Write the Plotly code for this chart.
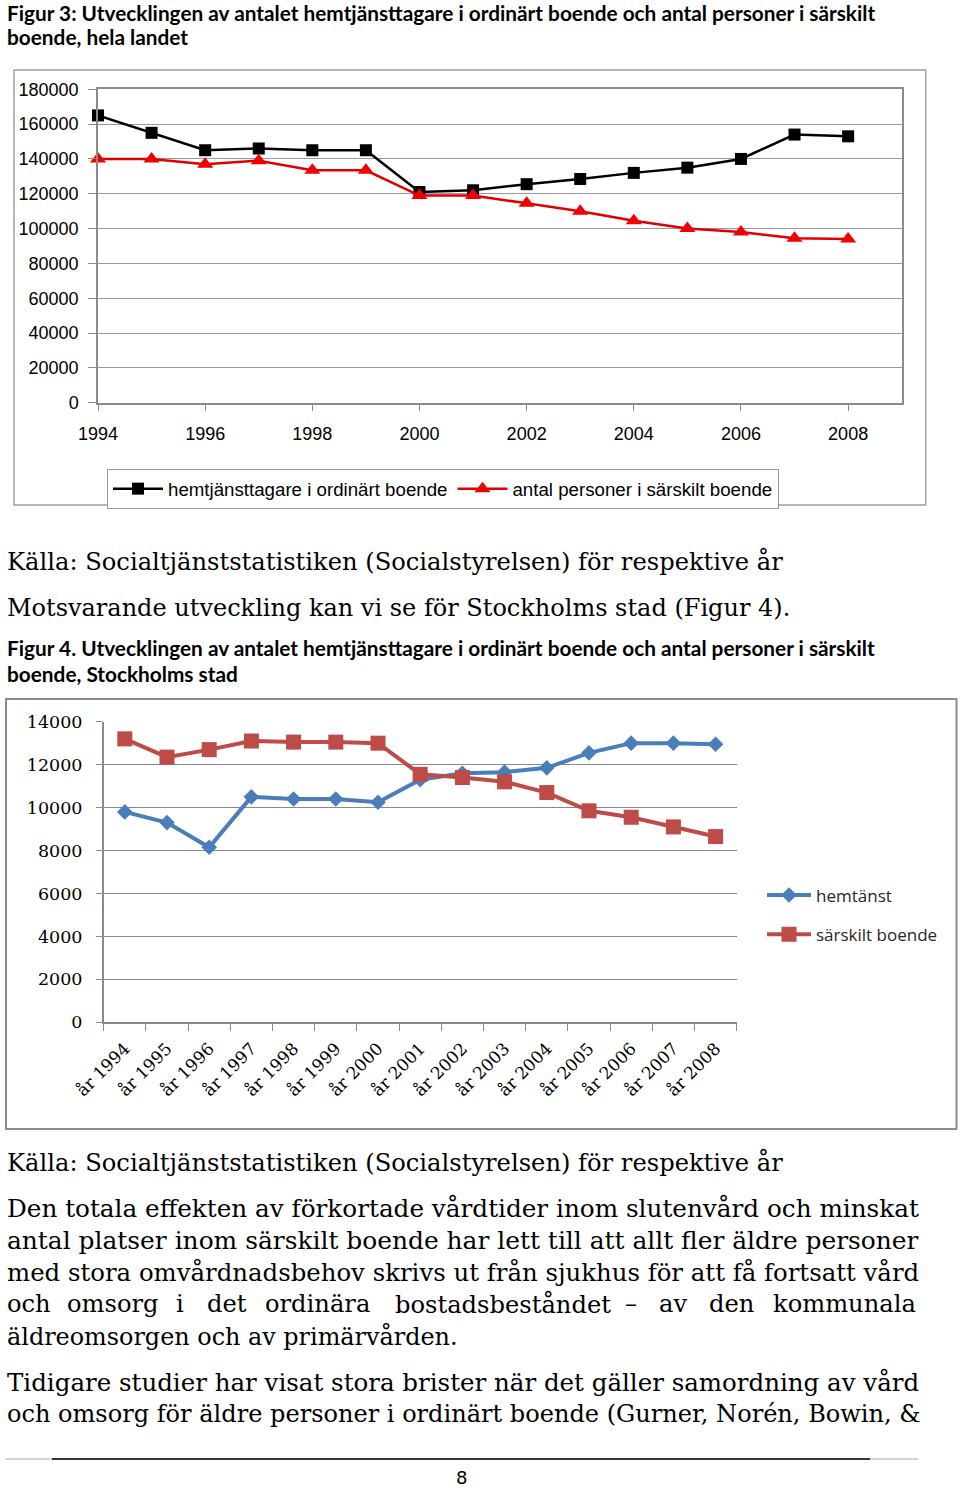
import plotly.graph_objects as go

W, H = 960, 1491
def X(px): return px / W
def Y(py): return 1 - py / H

# ---------- data: Figur 3 (hela landet) ----------
years1 = list(range(1994, 2009))
hemtjanst_riket = [165000, 155000, 145000, 146000, 145000, 145000, 121000, 122000,
                   125500, 128500, 132000, 135000, 140000, 154000, 153000]
sarskilt_riket = [140000, 140000, 137000, 139000, 133500, 133500, 119000, 119000,
                  114500, 110000, 104500, 100000, 98000, 94500, 94000]
x1_ticks = [1994, 1996, 1998, 2000, 2002, 2004, 2006, 2008]
y1_ticks = [0, 20000, 40000, 60000, 80000, 100000, 120000, 140000, 160000, 180000]

# ---------- data: Figur 4 (Stockholms stad) ----------
years2 = ["år 1994", "år 1995", "år 1996", "år 1997", "år 1998", "år 1999", "år 2000",
          "år 2001", "år 2002", "år 2003", "år 2004", "år 2005", "år 2006", "år 2007", "år 2008"]
hemtanst_sthlm = [9800, 9300, 8150, 10500, 10400, 10400, 10250, 11300, 11600, 11650,
                  11850, 12550, 13000, 13000, 12950]
sarskilt_sthlm = [13200, 12350, 12700, 13100, 13050, 13050, 13000, 11550, 11400, 11200,
                  10700, 9850, 9550, 9100, 8650]
y2_ticks = [0, 2000, 4000, 6000, 8000, 10000, 12000, 14000]

fig = go.Figure()

# Figur 3 traces
fig.add_trace(go.Scatter(x=years1, y=hemtjanst_riket, mode="lines+markers",
                         name="hemtjänsttagare i ordinärt boende", cliponaxis=False,
                         line=dict(color="black", width=2.5),
                         marker=dict(symbol="square", size=12, color="black"),
                         xaxis="x", yaxis="y", legend="legend"))
fig.add_trace(go.Scatter(x=years1, y=sarskilt_riket, mode="lines+markers",
                         name="antal personer i särskilt boende", cliponaxis=False,
                         line=dict(color="#E00000", width=2.5),
                         marker=dict(symbol="triangle-up", size=14, color="#F00000"),
                         xaxis="x", yaxis="y", legend="legend"))

# Figur 4 traces
fig.add_trace(go.Scatter(x=years2, y=hemtanst_sthlm, mode="lines+markers",
                         name="hemtänst", legendgroup="a", cliponaxis=False,
                         line=dict(color="#4A7EBB", width=4),
                         marker=dict(symbol="diamond", size=12, color="#4A7EBB"),
                         xaxis="x2", yaxis="y2", legend="legend2"))
fig.add_trace(go.Scatter(x=years2, y=sarskilt_sthlm, mode="lines+markers",
                         name="särskilt boende", legendgroup="b", cliponaxis=False,
                         line=dict(color="#BE4B48", width=4),
                         marker=dict(symbol="square", size=15, color="#BE4B48"),
                         xaxis="x2", yaxis="y2", legend="legend2"))

sans = "Liberation Sans, Arial, sans-serif"
serif = "DejaVu Serif, serif"

fig.update_layout(
    template="none",
    width=W, height=H, margin=dict(l=0, r=0, t=0, b=0, pad=0, autoexpand=False),
    paper_bgcolor="white", plot_bgcolor="white",
    xaxis=dict(domain=[X(98), X(901.7)], range=[1994, 2009], tickvals=x1_ticks,
               ticks="outside", ticklen=7, tickcolor="#8a8a8a", tickwidth=1,
               showline=True, linecolor="#8a8a8a", linewidth=1.5, mirror=True,
               showgrid=False, zeroline=False, ticklabelstandoff=7, automargin=False,
               tickfont=dict(family=sans, size=18, color="black"), anchor="y"),
    yaxis=dict(domain=[Y(402.7), Y(89.3)], range=[0, 180000], tickvals=y1_ticks,
               tickformat="d", ticks="outside", ticklen=8, tickcolor="#8a8a8a",
               showline=True, linecolor="#8a8a8a", linewidth=1.5, mirror=True,
               showgrid=True, gridcolor="#9a9a9a", gridwidth=1, zeroline=False,
               ticklabelstandoff=6, automargin=False,
               tickfont=dict(family=sans, size=18, color="black"), anchor="x"),
    xaxis2=dict(domain=[X(103.7), X(736.7)], type="category", range=[-0.5, 14.5],
                categoryorder="array", categoryarray=years2,
                ticks="outside", tickson="boundaries", ticklen=7, tickcolor="#8a8a8a",
                showline=True, linecolor="#8a8a8a", linewidth=1.5, showgrid=False,
                tickangle=-45, automargin=False, ticklabelstandoff=8,
                tickfont=dict(family=serif, size=17, color="black"), anchor="y2"),
    yaxis2=dict(domain=[Y(1022.3), Y(721.7)], range=[0, 14000], tickvals=y2_ticks,
                tickformat="d", ticks="outside", ticklen=6, tickcolor="#8a8a8a",
                showline=True, linecolor="#8a8a8a", linewidth=1.5,
                showgrid=True, gridcolor="#8a8a8a", gridwidth=1, zeroline=False,
                ticklabelstandoff=10, automargin=False,
                tickfont=dict(family=serif, size=17.5, color="black"), anchor="x2"),
    legend=dict(orientation="h", x=X(107), y=Y(469), xanchor="left", yanchor="top",
                bordercolor="#9a9a9a", borderwidth=1, bgcolor="white",
                font=dict(family=sans, size=18.7, color="black"), itemwidth=50),
    legend2=dict(orientation="v", x=X(762), y=Y(915), xanchor="left", yanchor="middle",
                 bgcolor="rgba(0,0,0,0)", tracegroupgap=14,
                 font=dict(family="Open Sans, sans-serif", size=17, color="#262626"),
                 itemwidth=44),
    showlegend=True,
)

shapes = [
    dict(type="rect", xref="paper", yref="paper", x0=X(14), x1=X(925.7), y0=Y(505), y1=Y(70),
         line=dict(color="#a0a0a0", width=1.5), layer="below"),
    dict(type="rect", xref="paper", yref="paper", x0=X(6), x1=X(956.5), y0=Y(1129), y1=Y(699),
         line=dict(color="#8c8c8c", width=2), layer="below"),
    dict(type="line", xref="paper", yref="paper", x0=X(5), x1=X(918), y0=Y(1459), y1=Y(1459),
         line=dict(color="#aaaaaa", width=1)),
    dict(type="line", xref="paper", yref="paper", x0=X(52), x1=X(870), y0=Y(1459), y1=Y(1459),
         line=dict(color="black", width=1.5)),
]
fig.update_layout(shapes=shapes)

def ann(text, x, y, family, size, bold=False, anchor="left"):
    t = f"<b>{text}</b>" if bold else text
    return dict(text=t, x=X(x), y=Y(y), xref="paper", yref="paper", xanchor=anchor,
                yanchor="middle", showarrow=False,
                font=dict(family=family, size=size, color="black"))

title_font = "Lato, sans-serif"
anns = [
    ann("Figur 3: Utvecklingen av antalet hemtjänsttagare i ordinärt boende och antal personer i särskilt", 5, 12, title_font, 20.8, True),
    ann("boende, hela landet", 5, 37, title_font, 20.8, True),
    ann("Källa: Socialtjänststatistiken (Socialstyrelsen) för respektive år", 5, 562, serif, 24.2),
    ann("Motsvarande utveckling kan vi se för Stockholms stad (Figur 4).", 5, 608, serif, 24.0),
    ann("Figur 4. Utvecklingen av antalet hemtjänsttagare i ordinärt boende och antal personer i särskilt", 5, 648, title_font, 20.8, True),
    ann("boende, Stockholms stad", 5, 673, title_font, 20.8, True),
    ann("Källa: Socialtjänststatistiken (Socialstyrelsen) för respektive år", 5, 1162, serif, 24.2),
    ann("Den totala effekten av förkortade vårdtider inom slutenvård och minskat", 5, 1208, serif, 24.7),
    ann("antal platser inom särskilt boende har lett till att allt fler äldre personer", 5, 1240, serif, 24.9),
    ann("med stora omvårdnadsbehov skrivs ut från sjukhus för att få fortsatt vård", 5, 1272, serif, 24.4),
    ann("äldreomsorgen och av primärvården.", 5, 1336, serif, 23.9),
    ann("Tidigare studier har visat stora brister när det gäller samordning av vård", 5, 1382, serif, 24.5),
    ann("och omsorg för äldre personer i ordinärt boende (Gurner, Norén, Bowin, &", 5, 1414, serif, 24.05),
    ann("8", 461, 1477.5, "DejaVu Sans, sans-serif", 18, anchor="center"),
]
# justified line with wide word spacing
line4_words = ["och", "omsorg", "i", "det", "ordinära", "bostadsbeståndet", "–", "av", "den", "kommunala"]
line4_x = [5, 65, 174, 205, 263, 393, 623, 657, 707, 771]
for w, xx in zip(line4_words, line4_x):
    anns.append(ann(w, xx, 1304, serif, 24.2))
fig.update_layout(annotations=anns)

# remove the default 8px body margin so the figure fills the window exactly
fig.write_html("out.html", config={"displayModeBar": False},
               post_script="document.body.style.margin='0px';")
